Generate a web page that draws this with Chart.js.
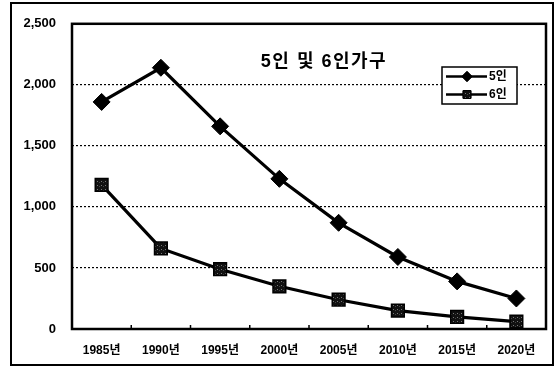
<!DOCTYPE html>
<html>
<head>
<meta charset="utf-8">
<script src="https://cdn.jsdelivr.net/npm/chart.js@4.4.1/dist/chart.umd.min.js"></script>
<style>
  html, body { margin: 0; padding: 0; background: #fff; }
  #wrap { width: 560px; height: 367px; position: relative; }
</style>
</head>
<body>
<div id="wrap"><canvas id="c" width="560" height="367"></canvas></div>
<script>
// Households of five and six persons (thousands), 1985–2020
const years = ['1985년', '1990년', '1995년', '2000년', '2005년', '2010년', '2015년', '2020년'];
const fivePerson = [1860, 2140, 1660, 1230, 870, 590, 390, 250];
const sixPerson = [1180, 660, 490, 350, 240, 150, 100, 60];
const seriesNames = ['5인', '6인'];
const chartTitle = '5인 및 6인가구';
const yTicks = [0, 500, 1000, 1500, 2000, 2500];

const FONT = '"Liberation Sans", Arial, "Noto Sans CJK KR", sans-serif';

// speckled fill for the square markers
function speckle() {
  const p = document.createElement('canvas');
  p.width = 4; p.height = 4;
  const g = p.getContext('2d');
  g.fillStyle = '#111';
  g.fillRect(0, 0, 4, 4);
  g.fillStyle = '#777';
  g.fillRect(1, 1, 1, 1);
  g.fillStyle = '#444';
  g.fillRect(3, 2, 1, 1);
  return g.createPattern(p, 'repeat');
}
const squareFill = speckle();

// frame, title, inner ticks and legend box
const decor = {
  id: 'decor',
  beforeDraw(chart) {
    const ctx = chart.ctx;
    ctx.save();
    ctx.fillStyle = '#fff';
    ctx.fillRect(0, 0, chart.width, chart.height);
    ctx.restore();
  },
  afterDatasetsDraw(chart) {
    const ctx = chart.ctx;
    const a = chart.chartArea;
    const x = chart.scales.x;
    ctx.save();
    // outer frame
    ctx.strokeStyle = '#000';
    ctx.lineWidth = 2;
    ctx.strokeRect(11, 3, 542, 362);
    // plot frame
    ctx.lineWidth = 2.5;
    ctx.strokeRect(a.left, a.top, a.right - a.left, a.bottom - a.top);
    // small ticks between categories, pointing up from the axis
    ctx.lineWidth = 1.5;
    for (let i = 1; i < years.length; i++) {
      const px = (x.getPixelForValue(i - 1) + x.getPixelForValue(i)) / 2;
      ctx.beginPath();
      ctx.moveTo(px, a.bottom);
      ctx.lineTo(px, a.bottom - 4);
      ctx.stroke();
    }
    // title
    ctx.fillStyle = '#000';
    ctx.font = 'bold 18px ' + FONT;
    ctx.letterSpacing = '1.5px';
    ctx.textAlign = 'center';
    ctx.textBaseline = 'middle';
    ctx.fillText(chartTitle, 324, 62);
    ctx.letterSpacing = '0px';
    // legend box
    const bx = 442, by = 67, bw = 75, bh = 37;
    ctx.fillStyle = '#fff';
    ctx.fillRect(bx, by, bw, bh);
    ctx.lineWidth = 1.5;
    ctx.strokeStyle = '#000';
    ctx.strokeRect(bx, by, bw, bh);
    const rows = [by + 9.5, by + 27.5];
    chart.data.datasets.forEach((ds, i) => {
      const ry = rows[i];
      ctx.lineWidth = 2.5;
      ctx.strokeStyle = '#000';
      ctx.beginPath();
      ctx.moveTo(bx + 4, ry);
      ctx.lineTo(bx + 45, ry);
      ctx.stroke();
      ctx.fillStyle = i === 0 ? '#000' : squareFill;
      ctx.lineWidth = 1;
      Chart.helpers.drawPoint(ctx, {
        pointStyle: ds.pointStyle, radius: i === 0 ? 5 : 5.5, rotation: 0, borderWidth: 1
      }, bx + 25, ry);
      ctx.fill();
      ctx.stroke();
      ctx.fillStyle = '#000';
      ctx.font = 'bold 12px ' + FONT;
      ctx.textAlign = 'left';
      ctx.fillText(ds.label, bx + 47, ry + 0.5);
    });
    ctx.restore();
  }
};

new Chart(document.getElementById('c'), {
  type: 'line',
  data: {
    labels: years,
    datasets: [
      {
        label: seriesNames[0],
        data: fivePerson,
        borderColor: '#000',
        borderWidth: 3.2,
        pointStyle: 'rectRot',
        pointRadius: 8.5,
        pointBackgroundColor: '#000',
        pointBorderColor: '#000',
        pointBorderWidth: 1,
        tension: 0
      },
      {
        label: seriesNames[1],
        data: sixPerson,
        borderColor: '#000',
        borderWidth: 3.2,
        pointStyle: 'rect',
        pointRadius: 9,
        pointBackgroundColor: squareFill,
        pointBorderColor: '#000',
        pointBorderWidth: 1.5,
        tension: 0
      }
    ]
  },
  options: {
    responsive: false,
    animation: false,
    events: [],
    layout: { padding: { left: 0, right: 14, top: 22, bottom: 0 } },
    plugins: {
      legend: { display: false },
      title: { display: false },
      tooltip: { enabled: false }
    },
    scales: {
      x: {
        offset: true,
        grid: { display: false, drawTicks: false },
        border: { display: false },
        ticks: {
          color: '#000',
          padding: 14,
          maxRotation: 0,
          font: { family: FONT, size: 12, weight: 'bold' }
        },
        afterFit(s) { s.height = 38; }
      },
      y: {
        min: 0,
        max: 2500,
        afterBuildTicks(s) { s.ticks = yTicks.map(v => ({ value: v })); },
        grid: {
          drawTicks: false,
          lineWidth: 1.2,
          color: ctx => (ctx.tick && (ctx.tick.value === 0 || ctx.tick.value === 2500)) ? 'rgba(0,0,0,0)' : '#000'
        },
        border: { display: false, dash: [2, 2] },
        ticks: {
          color: '#000',
          padding: 16,
          font: { family: FONT, size: 13, weight: 'bold' },
          callback: v => v.toLocaleString('en-US')
        },
        afterFit(s) { s.width = 72; }
      }
    }
  },
  plugins: [decor]
});
</script>
</body>
</html>
